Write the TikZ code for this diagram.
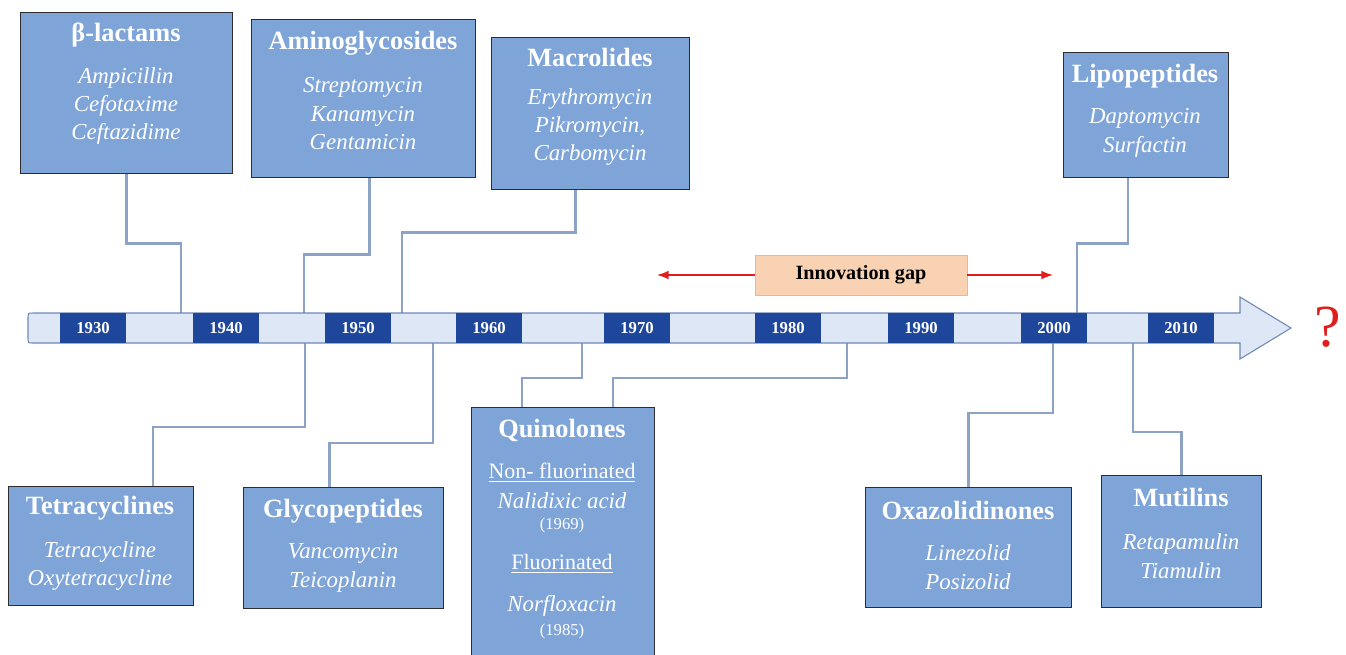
\documentclass[tikz,border=0pt]{standalone}
\usepackage{fontspec}
\setmainfont{Liberation Serif}
\usetikzlibrary{arrows.meta,positioning,calc}

\definecolor{barDark}{RGB}{30,70,155}
\definecolor{barLight}{RGB}{221,231,245}
\definecolor{barEdge}{RGB}{110,135,180}
\definecolor{boxFill}{RGB}{126,164,216}
\definecolor{boxEdge}{RGB}{45,45,50}
\definecolor{linkGray}{RGB}{140,163,198}
\definecolor{gapFill}{RGB}{248,210,178}
\definecolor{gapEdge}{RGB}{215,190,170}
\definecolor{gapRed}{RGB}{225,30,30}

\tikzset{
  catbox/.style={draw=boxEdge, fill=boxFill, line width=0.8pt, anchor=north west, inner sep=0pt},
  cattitle/.style={text=white, inner sep=0pt, font=\fontsize{15}{18}\selectfont\bfseries},
  drugs/.style={text=white, inner sep=0pt, align=center, font=\fontsize{13}{16.2}\selectfont\itshape},
  plain/.style={text=white, inner sep=0pt, font=\fontsize{12.5}{14}\selectfont},
  yrnote/.style={text=white, inner sep=0pt, font=\fontsize{9.5}{11}\selectfont},
  link/.style={draw=linkGray, line width=1.4pt},
  yearbox/.style={fill=barDark, text=white, font=\fontsize{9.5}{11}\selectfont\bfseries,
    minimum width=1.32cm, minimum height=0.6cm, inner sep=0pt},
}

\begin{document}
\begin{tikzpicture}[x=0.02cm, y=-0.02cm, >=Latex]
\useasboundingbox (0,0) rectangle (1346,654);
% 1 unit = 1 px of the 1346 x 654 frame, y grows downwards

% class boxes above the time line
\node[catbox, minimum width=4.24cm, minimum height=3.22cm] (beta) at (20,12) {};
\node[cattitle] (betaT) at (126,35) {β-lactams};
\node[drugs] (betaD) at (126,106) {Ampicillin\\Cefotaxime\\Ceftazidime};

\node[catbox, minimum width=4.48cm, minimum height=3.16cm] (amino) at (251,19) {};
\node[cattitle] (aminoT) at (363,43) {Aminoglycosides};
\node[drugs] (aminoD) at (363,114) {Streptomycin\\Kanamycin\\Gentamicin};

\node[catbox, minimum width=3.96cm, minimum height=3.04cm] (macro) at (491,37) {};
\node[cattitle] (macroT) at (590,57) {Macrolides};
\node[drugs] (macroD) at (590,127) {Erythromycin\\Pikromycin,\\Carbomycin};

\node[catbox, minimum width=3.30cm, minimum height=2.50cm] (lipo) at (1063,52) {};
\node[cattitle] (lipoT) at (1145,76) {Lipopeptides};
\node[drugs] (lipoD) at (1145,133) {Daptomycin\\Surfactin};

% class boxes below the time line
\node[catbox, minimum width=3.70cm, minimum height=2.38cm] (tetra) at (8,486) {};
\node[cattitle] (tetraT) at (100,508) {Tetracyclines};
\node[drugs] (tetraD) at (100,566) {Tetracycline\\Oxytetracycline};

\node[catbox, minimum width=4.00cm, minimum height=2.42cm] (glyco) at (243,487) {};
\node[cattitle] (glycoT) at (343,511) {Glycopeptides};
\node[drugs] (glycoD) at (343,568) {Vancomycin\\Teicoplanin};

\node[catbox, minimum width=3.66cm, minimum height=5.10cm] (quin) at (471,407) {};
\node[cattitle] (quinT) at (562,430) {Quinolones};
\node[plain] (quinN) at (562,473) {\underline{Non- fluorinated}};
\node[drugs] (quinND) at (562,501) {Nalidixic acid};
\node[yrnote] (quinNY) at (562,525) {(1969)};
\node[plain] (quinF) at (562,564) {\underline{Fluorinated}};
\node[drugs] (quinFD) at (562,606) {Norfloxacin};
\node[yrnote] (quinFY) at (562,631) {(1985)};

\node[catbox, minimum width=4.12cm, minimum height=2.40cm] (oxa) at (865,487) {};
\node[cattitle] (oxaT) at (968,510) {Oxazolidinones};
\node[drugs] (oxaD) at (968,567) {Linezolid\\Posizolid};

\node[catbox, minimum width=3.20cm, minimum height=2.64cm] (muti) at (1101,475) {};
\node[cattitle] (mutiT) at (1181,498) {Mutilins};
\node[drugs] (mutiD) at (1181,556) {Retapamulin\\Tiamulin};

% where the links meet the bar
\coordinate (pBeta) at (181,313);
\coordinate (pAmino) at (304,313);
\coordinate (pMacro) at (402,313);
\coordinate (pLipo) at (1077,313);
\coordinate (pTetra) at (305,343);
\coordinate (pGlyco) at (433,343);
\coordinate (pQuinA) at (582,343);
\coordinate (pQuinB) at (847,343);
\coordinate (pOxa) at (1053,343);
\coordinate (pMuti) at (1133,343);

\draw[link] (beta.south) -- ++(0,69) -| (pBeta);
\draw[link] ($(amino.south)+(6,0)$) -- ++(0,76) -| (pAmino);
\draw[link] ($(macro.south)+(-15,0)$) -- ++(0,42) -| (pMacro);
\draw[link] ($(lipo.south)+(-18,0)$) -- ++(0,65) -| (pLipo);
\draw[link] (pTetra) -- ++(0,84) -| ($(tetra.north)+(52,0)$);
\draw[link] (pGlyco) -- ++(0,100) -| ($(glyco.north)+(-14,0)$);
\draw[link] (pQuinA) -- ++(0,35) -| ($(quin.north)+(-41,0)$);
\draw[link] (pQuinB) -- ++(0,35) -| ($(quin.north)+(50,0)$);
\draw[link] (pOxa) -- ++(0,70) -| (oxa.north);
\draw[link] (pMuti) -- ++(0,89) -| (muti.north);

% time line
\draw[barEdge, fill=barLight, line width=0.6pt] (33,313) -- (1240,313) -- (1240,297) -- (1291,328)
  -- (1240,359) -- (1240,343) -- (33,343) .. controls (28,343) .. (28,338) -- (28,318)
  .. controls (28,313) .. (33,313) -- cycle;
\foreach \yr/\xs in {1930/93,1940/226,1950/358,1960/489,1970/637,1980/788,1990/921,2000/1054,2010/1181}
  \node[yearbox] (y\yr) at (\xs,328) {\yr};

% innovation gap
\node[fill=gapFill, draw=gapEdge, line width=0.4pt, minimum width=4.24cm, minimum height=0.8cm,
  font=\fontsize{11.5}{13}\selectfont\bfseries] (gap) at (861,275) {Innovation gap};
\coordinate (gapL) at (657,275);
\coordinate (gapR) at (1053,275);
\draw[->, gapRed, line width=0.8pt] (gap.west) -- (gapL);
\draw[->, gapRed, line width=0.8pt] (gap.east) -- (gapR);

\node[text=gapRed, inner sep=0pt, font=\fontsize{34}{36}\selectfont] (future) at (1328,327) {?};
\end{tikzpicture}
\end{document}
